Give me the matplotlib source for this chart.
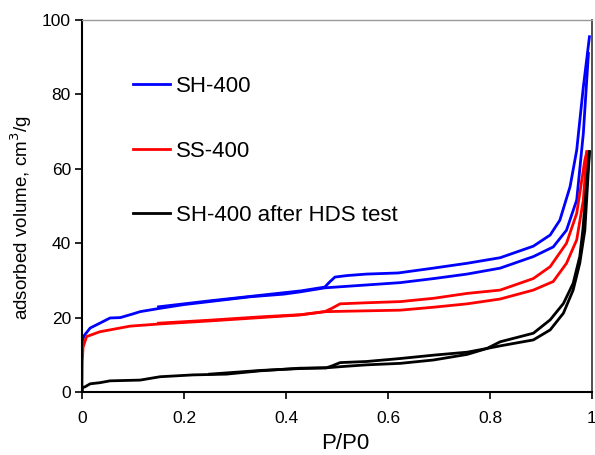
import matplotlib
matplotlib.use("Agg")
import matplotlib.pyplot as plt

plt.rcParams['font.family'] = ['Liberation Sans', 'DejaVu Sans']

# SH-400 (blue)
sh_ads_p = [0, 0.001, 0.005, 0.016, 0.035, 0.055, 0.075, 0.1, 0.114, 0.153, 0.2, 0.25,
            0.33, 0.395, 0.427, 0.476, 0.55, 0.624, 0.69, 0.755, 0.82, 0.885, 0.924,
            0.95, 0.97, 0.983, 0.993]
sh_ads_v = [11.5, 14, 15.3, 17.2, 18.5, 19.9, 20.0, 21.0, 21.6, 22.5, 23.5, 24.3,
            25.6, 26.3, 26.9, 28.0, 28.7, 29.4, 30.5, 31.7, 33.3, 36.4, 39.0,
            43.5, 51.6, 69.5, 91.0]
sh_des_p = [0.995, 0.983, 0.97, 0.957, 0.937, 0.918, 0.885, 0.82, 0.755, 0.689, 0.62,
            0.558, 0.52, 0.496, 0.485, 0.476, 0.43, 0.35, 0.25, 0.2, 0.15]
sh_des_v = [95.5, 82, 65, 55.2, 46.2, 42.2, 39.2, 36.1, 34.6, 33.3, 32.0,
            31.7, 31.3, 30.9, 29.5, 28.2, 27.2, 26.0, 24.5, 23.7, 22.9]

# SS-400 (red)
ss_ads_p = [0, 0.0005, 0.002, 0.009, 0.035, 0.055, 0.094, 0.153, 0.25, 0.35, 0.427,
            0.476, 0.55, 0.624, 0.69, 0.755, 0.82, 0.885, 0.924, 0.95, 0.97, 0.983, 0.99]
ss_ads_v = [0, 8, 12, 14.9, 16.2, 16.7, 17.7, 18.3, 19.1, 20.0, 20.7,
            21.6, 21.8, 22.0, 22.8, 23.7, 25.0, 27.4, 29.7, 34.6, 40.9, 51.6, 64.6]
ss_des_p = [0.99, 0.986, 0.97, 0.95, 0.918, 0.885, 0.82, 0.755, 0.69, 0.624, 0.56,
            0.506, 0.49, 0.476, 0.43, 0.35, 0.25, 0.15]
ss_des_v = [64.6, 62.4, 48, 40, 33.7, 30.5, 27.4, 26.5, 25.2, 24.3, 24.0,
            23.7, 22.5, 21.6, 20.8, 20.2, 19.3, 18.5]

# SH-400 after HDS test (black)
hds_ads_p = [0, 0.001, 0.006, 0.016, 0.035, 0.055, 0.114, 0.153, 0.218, 0.283, 0.35,
             0.427, 0.479, 0.506, 0.558, 0.624, 0.689, 0.755, 0.794, 0.82, 0.885,
             0.918, 0.944, 0.963, 0.976, 0.986, 0.995]
hds_ads_v = [0, 1.2, 1.4, 2.2, 2.5, 3.0, 3.2, 4.1, 4.6, 4.8, 5.7,
             6.4, 6.5, 6.8, 7.3, 7.7, 8.6, 10.1, 11.7, 12.4, 14.0,
             16.7, 21.2, 27.4, 34.6, 43.5, 64.6]
hds_des_p = [0.995, 0.982, 0.976, 0.963, 0.944, 0.918, 0.885, 0.82, 0.794, 0.755, 0.689,
             0.624, 0.558, 0.506, 0.49, 0.479, 0.427, 0.35, 0.25]
hds_des_v = [64.6, 43.5, 36.4, 29.2, 23.8, 19.4, 15.8, 13.5, 11.7, 10.7, 9.9,
             9.0, 8.2, 7.9, 7.0, 6.5, 6.3, 5.8, 4.8]

labels = ['SH-400', 'SS-400', 'SH-400 after HDS test']
colors = ['#0000ff', '#ff0000', '#000000']

xticks = [0, 0.2, 0.4, 0.6, 0.8, 1.0]
xticklabels = ['0', '0.2', '0.4', '0.6', '0.8', '1']
yticks = [0, 20, 40, 60, 80, 100]

fig = plt.figure(figsize=(5.95, 4.55), dpi=100)
ax = fig.add_axes([82/595, 63/455, 510/595, 372/455])

lw = 2.0
series = [(sh_ads_p, sh_ads_v, sh_des_p, sh_des_v),
          (ss_ads_p, ss_ads_v, ss_des_p, ss_des_v),
          (hds_ads_p, hds_ads_v, hds_des_p, hds_des_v)]
for (ap, av, dp, dv), lab, c in zip(series, labels, colors):
    ax.plot(ap, av, color=c, lw=lw, label=lab, solid_joinstyle='round')
    ax.plot(dp, dv, color=c, lw=lw, solid_joinstyle='round')

ax.set_xlim(0, 1)
ax.set_ylim(0, 100)
ax.set_xticks(xticks)
ax.set_xticklabels(xticklabels)
ax.set_yticks(yticks)
ax.tick_params(axis='both', direction='out', labelsize=12.5, length=5, width=1.2)
ax.tick_params(axis='x', pad=9)
ax.tick_params(axis='y', pad=3)

for side in ['left', 'bottom']:
    ax.spines[side].set_linewidth(1.5)
    ax.spines[side].set_color('black')
ax.spines['top'].set_color('#999999')
ax.spines['top'].set_linewidth(1.0)
ax.spines['right'].set_color('#333333')
ax.spines['right'].set_linewidth(1.2)

ax.set_xlabel('P/P0', fontsize=16)
ax.xaxis.set_label_coords(0.516, -0.11)
ax.set_ylabel('adsorbed volume, cm$^3$/g', fontsize=13.5)
ax.yaxis.set_label_coords(-0.094, 0.47)

ax.legend(loc='upper left', bbox_to_anchor=(0.1, 0.849), frameon=False,
          fontsize=16, handlelength=1.68, handletextpad=0.25, labelspacing=1.95,
          borderpad=0, borderaxespad=0)

fig.savefig('out.png', dpi=100)
